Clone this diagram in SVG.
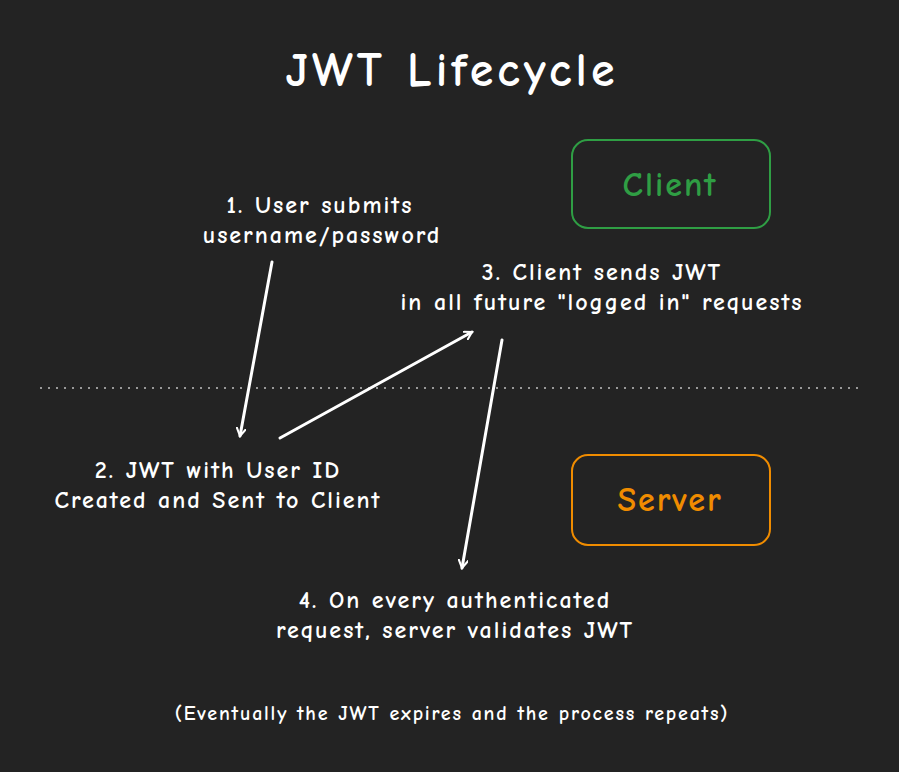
<svg xmlns="http://www.w3.org/2000/svg" width="899" height="772" viewBox="0 0 899 772">
<style>
text{font-family:"Comic Neue","Liberation Sans",sans-serif;fill:#ffffff;text-anchor:middle;font-weight:bold}
.t{font-size:24px;letter-spacing:2px}
.c{stroke:#ffffff;stroke-width:3;fill:none;stroke-linecap:round}
</style>
<defs><marker id="a" viewBox="0 0 12 12" refX="10" refY="6" markerWidth="10" markerHeight="10" orient="auto" markerUnits="userSpaceOnUse"><path d="M0,0 L10,6 L0,12" fill="none" stroke="#fff" stroke-width="2.5" stroke-linecap="round"/></marker></defs>
<rect width="899" height="772" fill="#232323"/>
<text x="452" y="86" font-size="48" letter-spacing="4">JWT Lifecycle</text>
<g id="client"><rect x="572" y="140" width="198" height="88" rx="16" fill="none" stroke="#2f9e44" stroke-width="2"/><text x="670" y="196" font-size="34" letter-spacing="2" style="fill:#2f9e44">Client</text></g>
<g id="server"><rect x="572" y="455" width="198" height="90" rx="16" fill="none" stroke="#f08c00" stroke-width="2"/><text x="670" y="511" font-size="34" letter-spacing="2" style="fill:#f08c00">Server</text></g>
<line x1="40" y1="388" x2="860" y2="388" stroke="#999" stroke-width="2" stroke-dasharray="2 6"/>
<g id="connectors">
<line class="c" x1="272" y1="262" x2="240" y2="436" marker-end="url(#a)"/>
<line class="c" x1="280" y1="438" x2="472" y2="332" marker-end="url(#a)"/>
<line class="c" x1="502" y1="340" x2="462" y2="568" marker-end="url(#a)"/>
</g>
<g id="step1"><text class="t" x="320" y="213">1. User submits</text><text class="t" x="322" y="243">username/password</text></g>
<g id="step3"><text class="t" x="602" y="280">3. Client sends JWT</text><text class="t" x="602" y="310">in all future "logged in" requests</text></g>
<g id="step2"><text class="t" x="218" y="478">2. JWT with User ID</text><text class="t" x="218" y="508">Created and Sent to Client</text></g>
<g id="step4"><text class="t" x="455" y="608">4. On every authenticated</text><text class="t" x="455" y="638">request, server validates JWT</text></g>
<text x="452" y="720" font-size="20" letter-spacing="1.8">(Eventually the JWT expires and the process repeats)</text>
</svg>
